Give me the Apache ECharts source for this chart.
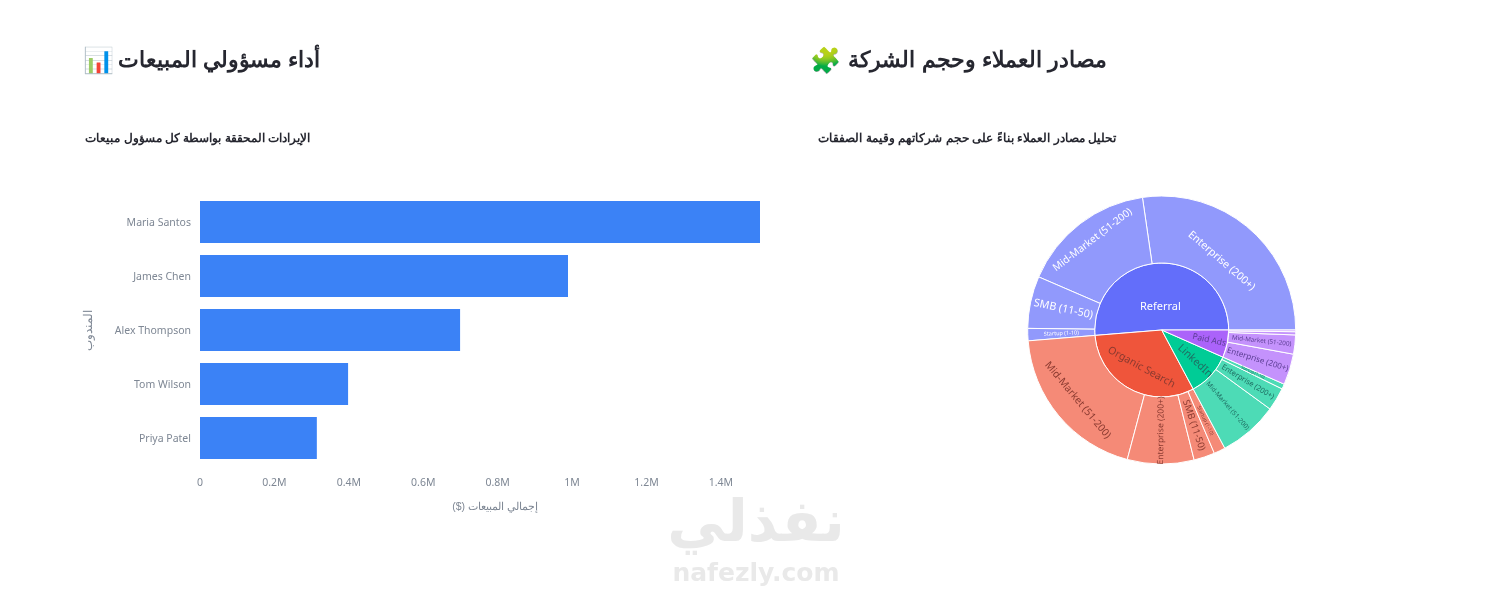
<!DOCTYPE html>
<html><head><meta charset="utf-8">
<style>html,body{margin:0;padding:0;background:#fff}#c{width:1512px;height:590px}</style>
<script src="https://cdn.jsdelivr.net/npm/echarts@6/dist/echarts.min.js"></script>
</head><body><div id="c"></div>
<script>
const reps = ['Priya Patel','Tom Wilson','Alex Thompson','James Chen','Maria Santos'];
const revenue = [314000,398000,699000,989000,1505000];
const xTicks = {0:'0',200000:'0.2M',400000:'0.4M',600000:'0.6M',800000:'0.8M',1000000:'1M',1200000:'1.2M',1400000:'1.4M'};

const sources = ['Referral','Organic Search','LinkedIn','Paid Ads'];
const referralSegments = ['Enterprise (200+)','Mid-Market (51-200)','SMB (11-50)','Startup (1-10)'];
const referralValues = [1067,634,246,58];
const organicSegments = ['Mid-Market (51-200)','Enterprise (200+)','SMB (11-50)','Startup (1-10)'];
const organicValues = [765,314,99,54];
const linkedinSegments = ['Mid-Market (51-200)','Enterprise (200+)','Startup (1-10)'];
const linkedinValues = [280,109,24];
const paidSegments = ['Enterprise (200+)','Mid-Market (51-200)','SMB (11-50)','Startup (1-10)'];
const paidValues = [146,90,15,8];

const segs = [referralSegments,organicSegments,linkedinSegments,paidSegments];
const vals = [referralValues,organicValues,linkedinValues,paidValues];
const base = ['#636efa','#ef553b','#00cc96','#ab63fa'];
const light = ['#9199fc','#f58a77','#4ddbb6','#c492fc'];
const txt = ['#ffffff','#8a3a30','#1f6f63','#5b3d93'];
const parentRot = [0,'tangential','radial','radial'];
const parentSize = [11,10.5,10.6,8.5];
// label-local shifts off the ring's mid radius: vertical uses an empty line, horizontal uses padding
const parentV = [10,9,0,0];
const parentH = [0,0,24,30];
const childRot = [['tangential','tangential','radial','radial'],
  ['tangential','radial','radial','radial'],
  ['radial','radial','radial'],
  ['radial','radial','radial','radial']];
const childSize = [[10.6,10.2,10.8,5.5],[10.2,8.5,9.5,5],[6.5,7.5,4],[8,6.3,2,2]];
const childV = [[9,-13,0,0],[9,0,0,0],[0,0,0],[0,0,0,0]];
const shifted = (v,h)=>{
  const o={padding:[0,0,0,h]};
  if(v>0){o.formatter='\n{b}';o.lineHeight=2*v;}
  if(v<0){o.formatter='{b}\n';o.lineHeight=-2*v;}
  return o;
};
const tree = sources.map((s,i)=>({
  name:s,itemStyle:{color:base[i]},
  label:{rotate:parentRot[i],fontSize:parentSize[i],color:txt[i],...shifted(parentV[i],parentH[i])},
  children:segs[i].map((n,j)=>({
    name:n,value:vals[i][j],itemStyle:{color:light[i]},
    label:{rotate:childRot[i][j],fontSize:childSize[i][j],color:txt[i],show:childSize[i][j]>2,...shifted(childV[i][j],0)}
  }))
}));
const AR='"Liberation Sans",Arial,sans-serif';
const LAT='"Noto Sans","Open Sans",sans-serif';
const heading=(x,y,t,size,color,align='right',weight='bold',font=AR)=>({type:'text',silent:true,x,y,style:{text:t,font:`${weight} ${size}px ${font}`,fill:color,align,verticalAlign:'middle'}});
const chart=echarts.init(document.getElementById('c'),null,{renderer:'canvas'});
chart.setOption({
  animation:false,
  backgroundColor:'#fff',
  grid:{left:200,top:195,width:560,height:270,containLabel:false},
  xAxis:{type:'value',min:0,max:1505000,interval:200000,
    axisLine:{show:false},axisTick:{show:false},splitLine:{show:false},
    axisLabel:{color:'#7e8794',fontSize:10.5,fontFamily:LAT,margin:13,formatter:v=>xTicks[v]??'',showMaxLabel:false}},
  yAxis:{type:'category',data:reps,axisLine:{show:false},axisTick:{show:false},
    axisLabel:{color:'#7e8794',fontSize:10.5,fontFamily:LAT,margin:9,lineHeight:2,formatter:v=>'\n'+v}},
  series:[
    {type:'bar',data:revenue,barWidth:42,itemStyle:{color:'#3b82f6'},silent:true},
    {type:'sunburst',center:[1161.7,330],radius:[0,134],startAngle:0,clockwise:false,sort:null,silent:true,
     data:tree,
     label:{fontFamily:LAT},
     itemStyle:{borderColor:'#fff',borderWidth:1},
     levels:[{},{r0:0,r:67},{r0:67,r:134}]}
  ],
  graphic:[
    heading(320,61,'أداء مسؤولي المبيعات',21.5,'#262730'),
    heading(83,62,'📊',25,'#262730','left','normal','"Noto Color Emoji",sans-serif'),
    heading(1107,61,'مصادر العملاء وحجم الشركة',22.4,'#262730'),
    heading(810,62,'🧩',25,'#262730','left','normal','"Noto Color Emoji",sans-serif'),
    heading(310,139,'الإيرادات المحققة بواسطة كل مسؤول مبيعات',12.1,'#262730'),
    heading(1116,139,'تحليل مصادر العملاء بناءً على حجم شركاتهم وقيمة الصفقات',12.4,'#262730'),
    heading(495,507,'($) إجمالي المبيعات',10.5,'#7e8794','center','normal'),
    {type:'text',silent:true,x:89,y:330,rotation:Math.PI/2,style:{text:'المندوب',font:`11.5px ${AR}`,fill:'#7e8794',align:'center',verticalAlign:'middle'}},
    heading(756,526,'نفذلي',58,'#e9e9e9','center','bold','"DejaVu Sans",sans-serif'),
    heading(756,574,'nafezly.com',25,'#e9e9e9','center','bold','"DejaVu Sans",sans-serif')
  ]
});
</script></body></html>
